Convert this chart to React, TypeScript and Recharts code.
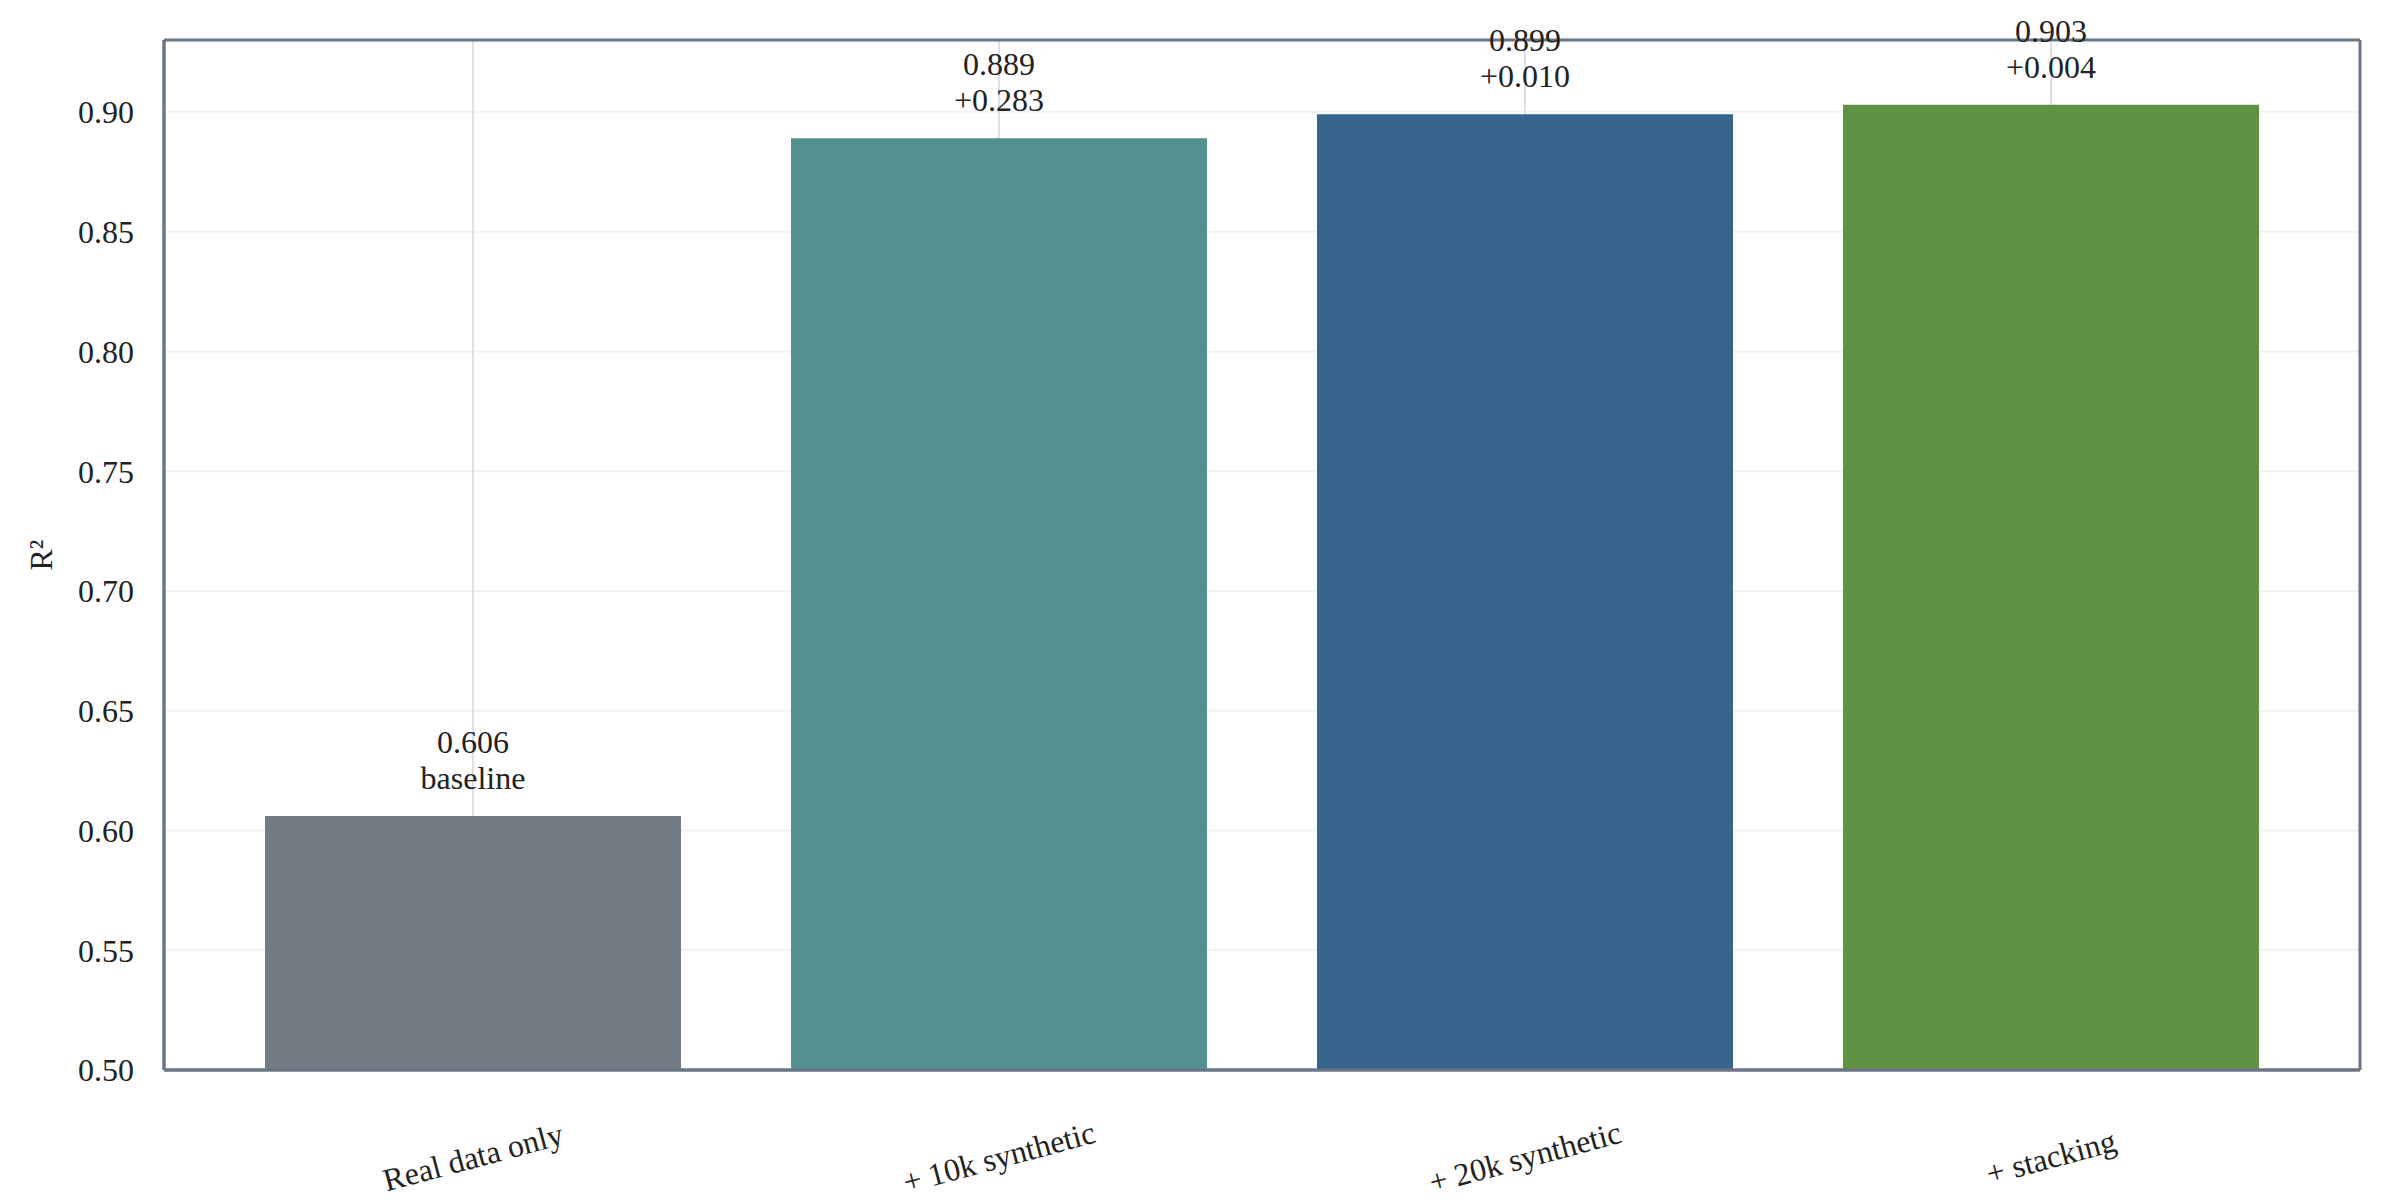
import { BarChart, Bar, Cell, XAxis, YAxis, CartesianGrid, LabelList } from 'recharts';

const categories = ['Real data only', '+ 10k synthetic', '+ 20k synthetic', '+ stacking'];
const r2Values = [0.606, 0.889, 0.899, 0.903];
const gainLabels = ['baseline', '+0.283', '+0.010', '+0.004'];
const barColors = ['#737b85', '#538f8d', '#36648c', '#5f9343'];
const yTicks = [0.5, 0.55, 0.6, 0.65, 0.7, 0.75, 0.8, 0.85, 0.9];

const data = categories.map((name, i) => ({ name, r2: r2Values[i], note: gainLabels[i] }));

const FONT = '"Liberation Serif", "Times New Roman", serif';
const FRAME = { stroke: '#6b7685', strokeWidth: 3 };

// frame lines follow the plot area edges
const frameRows = ({ offset }: any) => [offset.top, offset.top + offset.height];
const frameCols = ({ offset }: any) => [offset.left, offset.left + offset.width];

const XTick = (props: any) => {
  const { x, y, payload } = props;
  const cy = y + 79;
  return (
    <text x={x} y={cy} textAnchor="middle" dominantBaseline="central" fontSize={32}
      fontFamily={FONT} fill="#222" transform={`rotate(-15, ${x}, ${cy})`}>
      {payload.value}
    </text>
  );
};

const BarLabel = (props: any) => {
  const { x, y, width, index } = props;
  const cx = x + width / 2;
  return (
    <text x={cx} textAnchor="middle" fontSize={32} fontFamily={FONT} fill="#222">
      <tspan x={cx} y={y - 63}>{r2Values[index].toFixed(3)}</tspan>
      <tspan x={cx} y={y - 27}>{gainLabels[index]}</tspan>
    </text>
  );
};

const YLabel = (props: any) => {
  const { viewBox } = props;
  const cy = viewBox.y + viewBox.height / 2;
  return (
    <text x={41} y={cy} textAnchor="middle" dominantBaseline="central" fontSize={32}
      fontFamily={FONT} fill="#222" transform={`rotate(-90, 41, ${cy})`}>
      R²
    </text>
  );
};

export default function App() {
  return (
    <div style={{ position: 'absolute', left: 0, top: 0, background: '#fff' }}>
      <BarChart width={2383} height={1204} data={data}
        margin={{ top: 40, right: 23, left: 0, bottom: 0 }}>
        <CartesianGrid horizontal vertical={false} stroke="#f1f2f4" strokeWidth={2} />
        <CartesianGrid horizontal={false} vertical stroke="#dde0ec" strokeWidth={2} />
        <CartesianGrid horizontalCoordinatesGenerator={frameRows}
          verticalCoordinatesGenerator={frameCols} stroke="#6b7685" strokeWidth={3} />
        <XAxis dataKey="name" height={134} axisLine={FRAME} tickLine={false}
          padding={{ left: 46, right: 46 }} tick={<XTick />} interval={0} />
        <YAxis domain={[0.5, 0.93]} ticks={yTicks} width={164} axisLine={FRAME} tickLine={false}
          tickSize={22} tickMargin={8} allowDataOverflow
          tick={{ fontSize: 32, fontFamily: FONT, fill: '#222' }}
          tickFormatter={(v: number) => v.toFixed(2)}
          label={<YLabel />} />
        <Bar dataKey="r2" barSize={416} isAnimationActive={false}>
          {data.map((d, i) => (
            <Cell key={d.name} fill={barColors[i]} />
          ))}
          <LabelList dataKey="r2" content={<BarLabel />} />
        </Bar>
      </BarChart>
    </div>
  );
}
